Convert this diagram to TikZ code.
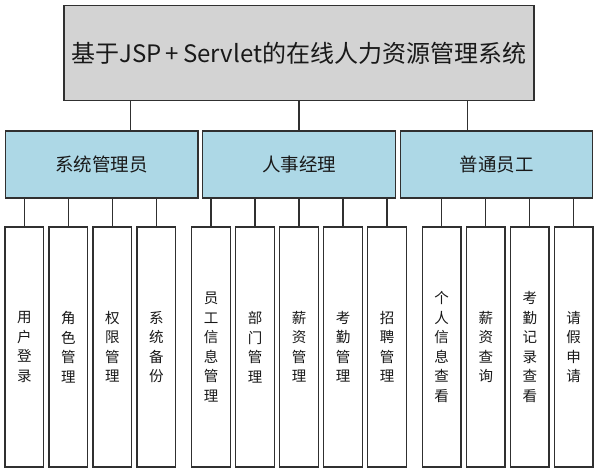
\documentclass[tikz,border=0pt]{standalone}
\usepackage{fontspec}
\setmainfont{Noto Sans CJK SC}
\definecolor{boxline}{HTML}{303030}
\definecolor{topfill}{HTML}{D3D3D3}
\definecolor{midfill}{HTML}{ADD8E6}
\begin{document}
\begin{tikzpicture}[x=1pt,y=-1pt,
  box/.style={draw=boxline,line width=1.3pt,inner sep=0pt,text=black!90},
  topbox/.style={box,fill=topfill,minimum width=470pt,minimum height=95.5pt,font=\fontsize{24}{28}\selectfont},
  midbox/.style={box,fill=midfill,minimum width=192.6pt,minimum height=67pt,font=\fontsize{18.5}{22}\selectfont},
  leafbox/.style={box,fill=white,minimum width=38.6pt,minimum height=240pt,align=center,font=\fontsize{14.5}{19.5}\selectfont},
  link/.style={draw=boxline,line width=1.3pt}]
\useasboundingbox (0,0) rectangle (598,473);
\node[topbox] (top) at (299,53) {基于JSP\,+\,Servlet的在线人力资源管理系统};
\node[midbox] (m1) at (101.6,164.4) {系统管理员};
\node[midbox] (m2) at (299,164.4) {人事经理};
\node[midbox] (m3) at (496.5,164.4) {普通员工};
% leaves
\node[leafbox] (a1) at (24.4,347) {用\\户\\登\\录};
\node[leafbox] (a2) at (68.4,347) {角\\色\\管\\理};
\node[leafbox] (a3) at (112.4,347) {权\\限\\管\\理};
\node[leafbox] (a4) at (156.4,347) {系\\统\\备\\份};
\node[leafbox] (b1) at (211,347) {员\\工\\信\\息\\管\\理};
\node[leafbox] (b2) at (255,347) {部\\门\\管\\理};
\node[leafbox] (b3) at (299,347) {薪\\资\\管\\理};
\node[leafbox] (b4) at (343,347) {考\\勤\\管\\理};
\node[leafbox] (b5) at (387,347) {招\\聘\\管\\理};
\node[leafbox] (c1) at (441.7,347) {个\\人\\信\\息\\查\\看};
\node[leafbox] (c2) at (485.8,347) {薪\\资\\查\\询};
\node[leafbox] (c3) at (529.8,347) {考\\勤\\记\\录\\查\\看};
\node[leafbox] (c4) at (573.7,347) {请\\假\\申\\请};
% connectors top -> mid
\draw[link] (top.south -| 130.7,0) -- (m1.north -| 130.7,0);
\draw[link] (top.south) -- (m2.north);
\draw[link] (top.south -| 467.7,0) -- (m3.north -| 467.7,0);
% connectors mid -> leaves
\foreach \l in {a1,a2,a3,a4} \draw[link] (m1.south -| \l.north) -- (\l.north);
\foreach \l in {b1,b2,b3,b4,b5} \draw[link] (m2.south -| \l.north) -- (\l.north);
\foreach \l in {c1,c2,c3,c4} \draw[link] (m3.south -| \l.north) -- (\l.north);
\end{tikzpicture}
\end{document}
